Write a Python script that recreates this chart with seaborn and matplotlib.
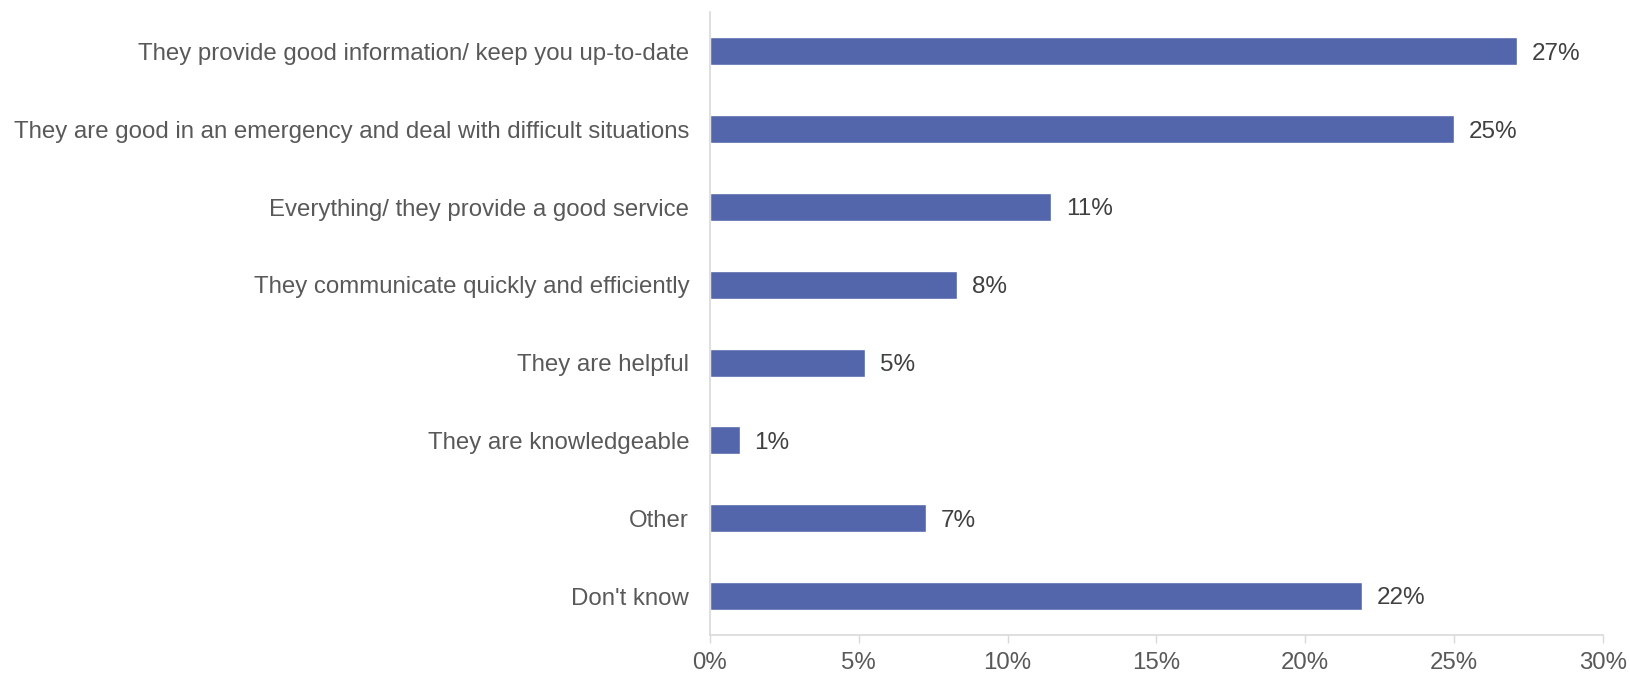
import matplotlib
matplotlib.use("Agg")
import matplotlib.pyplot as plt
import seaborn as sns
import pandas as pd

categories = [
    "They provide good information/ keep you up-to-date",
    "They are good in an emergency and deal with difficult situations",
    "Everything/ they provide a good service",
    "They communicate quickly and efficiently",
    "They are helpful",
    "They are knowledgeable",
    "Other",
    "Don't know",
]
values = [27.1, 25.0, 11.45, 8.3, 5.2, 1.0, 7.25, 21.9]
x_ticks = [0, 5, 10, 15, 20, 25, 30]

sns.set_theme(style="white")
plt.rcParams["font.family"] = ["Liberation Sans", "DejaVu Sans"]

df = pd.DataFrame({"reason": categories, "pct": values})

fig = plt.figure(figsize=(16.31, 6.74), dpi=100)
ax = fig.add_axes([0.4353, 0.0579, 0.5475, 0.9236])

sns.barplot(data=df, x="pct", y="reason", color="#5366AC", width=0.36,
            saturation=1, ax=ax, orient="h")

for i, v in enumerate(values):
    ax.text(v + 0.5, i + 0.03, f"{v:.0f}%", va="center", ha="left",
            fontsize=17.5, color="#404040")

ax.set_xlim(0, 30)
ax.set_ylim(7.5, -0.5)
ax.set_xticks(x_ticks)
ax.set_xticklabels([f"{t}%" for t in x_ticks], fontsize=17.3, color="#595959")
ax.tick_params(axis="y", left=False, length=0, pad=15, labelsize=17.3, labelcolor="#595959")
ax.tick_params(axis="x", bottom=True, length=6, width=1, color="#D9D9D9", pad=6, direction="out")
ax.set_xlabel("")
ax.set_ylabel("")

for s in ["top", "right"]:
    ax.spines[s].set_visible(False)
ax.spines["left"].set_color("#D9D9D9")
ax.spines["bottom"].set_color("#D9D9D9")
ax.spines["left"].set_linewidth(1.2)
ax.spines["bottom"].set_linewidth(1.2)

fig.savefig("out.png", dpi=100)
